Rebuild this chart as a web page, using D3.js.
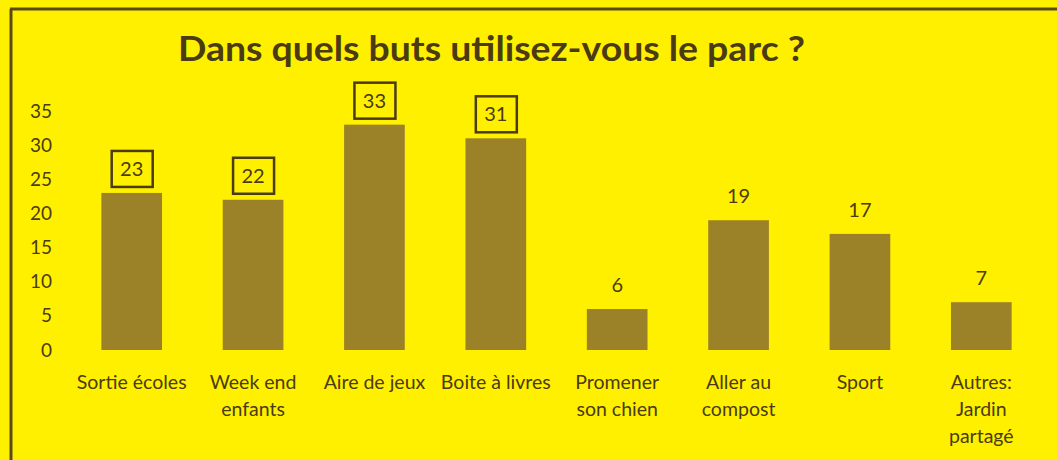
<html>
  <head>
    <script src="https://d3js.org/d3.v7.min.js"></script>
    <style>
      body { margin: 0; background: #fff000; }
      text { font-family: Lato, "Open Sans", sans-serif; fill: #4a3b12; }
    </style>
  </head>
  <body>
    <svg id="chart" width="1057" height="460"></svg>
    <script>
      // data
      const categories = [
        ["Sortie écoles"],
        ["Week end", "enfants"],
        ["Aire de jeux"],
        ["Boite à livres"],
        ["Promener", "son chien"],
        ["Aller au", "compost"],
        ["Sport"],
        ["Autres:", "Jardin", "partagé"]
      ];
      const values = [23, 22, 33, 31, 6, 19, 17, 7];
      const boxed = [true, true, true, true, false, false, false, false];
      const yTicks = [0, 5, 10, 15, 20, 25, 30, 35];
      const title = "Dans quels buts utilisez-vous le parc ?";

      const svg = d3.select("#chart");
      const width = 1057, height = 460;
      const ink = "#4a3b12";

      svg.append("rect").attr("width", width).attr("height", height).attr("fill", "#fff000");

      // frame lines (top + left)
      svg.append("line").attr("x1", 10).attr("x2", width).attr("y1", 9).attr("y2", 9)
        .attr("stroke", "#5a4a16").attr("stroke-width", 3);
      svg.append("line").attr("x1", 11).attr("x2", 11).attr("y1", 9).attr("y2", height)
        .attr("stroke", "#5a4a16").attr("stroke-width", 3);

      const x = d3.scaleBand()
        .domain(d3.range(values.length))
        .range([71, 1042])
        .paddingInner(0.5)
        .paddingOuter(0.25);

      const y = d3.scaleLinear().domain([0, 35]).range([350, 111]);

      // title
      svg.append("text")
        .attr("x", 178).attr("y", 61)
        .attr("textLength", 627)
        .attr("lengthAdjust", "spacingAndGlyphs")
        .style("font-size", "34px")
        .style("font-weight", "bold")
        .text(title);

      // y axis labels (no line, no ticks)
      const yAxis = d3.axisLeft(y).tickValues(yTicks).tickSize(0).tickPadding(0);
      const yg = svg.append("g").attr("transform", "translate(52,0)").call(yAxis);
      yg.select(".domain").remove();
      yg.selectAll("text")
        .style("font-size", "19px")
        .style("font-family", "Lato, sans-serif")
        .attr("fill", ink);

      // bars
      svg.selectAll("rect.bar")
        .data(values)
        .join("rect")
        .attr("class", "bar")
        .attr("x", (d, i) => x(i))
        .attr("width", x.bandwidth())
        .attr("y", (d) => y(d))
        .attr("height", (d) => y(0) - y(d))
        .attr("fill", "#9b8228");

      // value labels
      const lab = svg.selectAll("g.lab")
        .data(values)
        .join("g")
        .attr("class", "lab")
        .attr("transform", (d, i) => `translate(${x(i) + x.bandwidth() / 2}, ${y(d) - 24})`);

      lab.filter((d, i) => boxed[i])
        .append("rect")
        .attr("x", -20).attr("y", -18)
        .attr("width", 41).attr("height", 36)
        .attr("fill", "none")
        .attr("stroke", ink)
        .attr("stroke-width", 2.5);

      lab.append("text")
        .attr("text-anchor", "middle")
        .attr("dy", "0.35em")
        .style("font-size", "20px")
        .text((d) => d);

      // category labels
      const cat = svg.selectAll("text.cat")
        .data(categories)
        .join("text")
        .attr("class", "cat")
        .attr("text-anchor", "middle")
        .attr("x", (d, i) => x(i) + x.bandwidth() / 2)
        .attr("y", 382)
        .style("font-size", "19.5px");

      cat.selectAll("tspan")
        .data((d) => d)
        .join("tspan")
        .attr("x", function () { return this.parentNode.getAttribute("x"); })
        .attr("dy", (d, j) => (j === 0 ? "0.35em" : "27px"))
        .text((d) => d);
    </script>
  </body>
</html>
